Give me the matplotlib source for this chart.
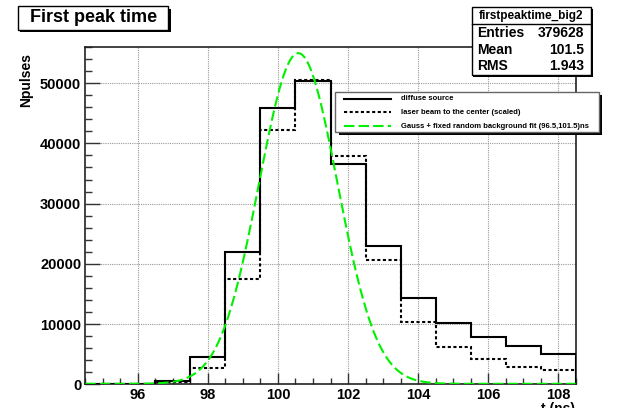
import numpy as np
import matplotlib
matplotlib.use("Agg")
import matplotlib.pyplot as plt
from matplotlib.patches import Rectangle
from matplotlib.lines import Line2D
from matplotlib.ticker import MultipleLocator

plt.rcParams['font.family'] = ['Liberation Sans', 'DejaVu Sans']
plt.rcParams['font.weight'] = 'bold'

# histogram data (bins of 1 ns, centred on integers)
bin_edges = np.arange(94.5, 109.0, 1.0)
diffuse = [50, 80, 600, 4500, 21900, 45850, 50300, 36650, 22900, 14300, 10230, 7860, 6420, 5030]
laser = [30, 50, 450, 2750, 17500, 42300, 50500, 37950, 20700, 10350, 6150, 4250, 2920, 2430]

# fit parameters (gauss + flat background)
fit_amp = 54900
fit_mean = 100.58
fit_sigma = 1.12
fit_bg = 80

stats_title = "firstpeaktime_big2"
stats_rows = [("Entries", "379628"), ("Mean", "101.5"), ("RMS", "1.943")]
legend_labels = ["diffuse source", "laser beam to the center (scaled)",
                 "Gauss + fixed random background fit (96.5,101.5)ns"]

W, H = 623, 408
fig = plt.figure(figsize=(W / 100, H / 100), dpi=100)
fig.patch.set_facecolor('white')

# axes placed in pixel coordinates
x0, x1, y0, y1 = 85.3, 575.7, 47, 384.3
ax = fig.add_axes([x0 / W, 1 - y1 / H, (x1 - x0) / W, (y1 - y0) / H])

ax.stairs(diffuse, bin_edges, color='black', lw=1.5, zorder=3)
ax.stairs(laser, bin_edges, color='black', lw=1.5, linestyle=(0, (1.5, 1.2)), zorder=3)

xs = np.linspace(bin_edges[0], bin_edges[-1], 600)
fit_curve = fit_bg + fit_amp * np.exp(-0.5 * ((xs - fit_mean) / fit_sigma) ** 2)
ax.plot(xs, fit_curve, color='#00f000', lw=1.5, linestyle=(0, (5, 2)), zorder=4)

ax.set_xlim(94.5, 108.5)
ax.set_ylim(0, 56000)
ax.xaxis.set_major_locator(MultipleLocator(2))
ax.xaxis.set_minor_locator(MultipleLocator(0.5))
ax.yaxis.set_major_locator(MultipleLocator(10000))
ax.yaxis.set_minor_locator(MultipleLocator(2000))
ax.grid(True, which='major', color='#999999', linestyle=(0, (1, 1)), lw=0.8)
ax.tick_params(axis='both', which='both', direction='in', top=False, right=False,
               labelsize=10.5, pad=3, color='#333333')
ax.tick_params(axis='y', which='major', length=11, width=1)
ax.tick_params(axis='y', which='minor', length=5, width=1)
ax.tick_params(axis='x', which='major', length=8, width=1)
ax.tick_params(axis='x', which='minor', length=4, width=1)
for lab in ax.get_xticklabels() + ax.get_yticklabels():
    lab.set_fontweight('bold')
for side, sp in ax.spines.items():
    sp.set_linewidth(1.2)
    sp.set_color('#222222')


def px_rect(x, y, w, h, **kw):
    r = Rectangle((x / W, 1 - (y + h) / H), w / W, h / H, transform=fig.transFigure, **kw)
    fig.add_artist(r)
    return r


def px_text(x, y, s, **kw):
    return fig.text(x / W, 1 - y / H, s, **kw)


# title box with shadow
px_rect(20, 9, 151, 23, facecolor='black', edgecolor='none', zorder=10)
px_rect(17.5, 6.5, 151, 23, facecolor='white', edgecolor='black', lw=1, zorder=11)
px_text(93.5, 17.5, "First peak time", ha='center', va='center', fontsize=13,
        fontweight='bold', zorder=12)

# stats box
px_rect(473.5, 8.5, 119, 68, facecolor='black', edgecolor='none', zorder=10)
px_rect(471.5, 6.5, 119, 68, facecolor='white', edgecolor='black', lw=1, zorder=11)
fig.add_artist(Line2D([471.5 / W, 590.5 / W], [1 - 23.5 / H, 1 - 23.5 / H],
                      transform=fig.transFigure, color='black', lw=1, zorder=12))
px_text(531, 15.5, stats_title, ha='center', va='center', fontsize=8.5, zorder=12)
for i, (name, val) in enumerate(stats_rows):
    yy = 33 + i * 16.5
    px_text(477.5, yy, name, ha='left', va='center', fontsize=10, zorder=12)
    px_text(584.5, yy, val, ha='right', va='center', fontsize=10, zorder=12)

# legend box with shadow
px_rect(338.5, 94.5, 263, 40.5, facecolor='black', edgecolor='none', zorder=10)
px_rect(335, 91.5, 264, 40.5, facecolor='white', edgecolor='#666666', lw=1, zorder=11)
leg_styles = [dict(color='black', lw=1.5, linestyle='-'),
              dict(color='black', lw=1.5, linestyle=(0, (1.5, 1.2))),
              dict(color='#00f000', lw=1.5, linestyle=(0, (5, 2)))]
for i, (lab, st) in enumerate(zip(legend_labels, leg_styles)):
    yy = 98.7 + i * 13.7
    fig.add_artist(Line2D([344 / W, 391 / W], [1 - yy / H, 1 - yy / H],
                          transform=fig.transFigure, zorder=12, **st))
    px_text(400.5, yy, lab, ha='left', va='center', fontsize=5.5, zorder=12)

# axis titles (x title sits partly below the canvas edge, as in the original)
px_text(26, 53, "Npulses", rotation=90, ha='center', va='top', fontsize=10)
px_text(575, 402.5, "t (ns)", ha='right', va='top', fontsize=10)

fig.savefig("out.png", dpi=100)
